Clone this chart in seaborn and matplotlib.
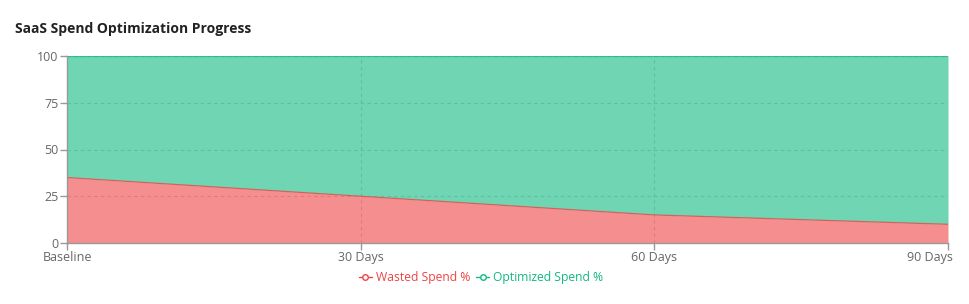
import matplotlib
matplotlib.use("Agg")
import matplotlib.pyplot as plt
import seaborn as sns
import numpy as np
import pandas as pd
from matplotlib.lines import Line2D
from matplotlib.transforms import ScaledTranslation

categories = ["Baseline", "30 Days", "60 Days", "90 Days"]
wasted = [35, 25, 15, 10]
optimized = [65, 75, 85, 90]
yticks = [0, 25, 50, 75, 100]

RED = "#ef4444"
GREEN = "#10b981"

sns.set_theme(style="white")
plt.rcParams["font.family"] = ["Open Sans", "DejaVu Sans"]

fig = plt.figure(figsize=(9.7, 3.04), dpi=100)
ax = fig.add_axes([67/970, 1-243/304, (948-67)/970, (243-56)/304])

x = np.arange(len(categories))
w = np.array(wasted, dtype=float)
o = np.array(optimized, dtype=float)
top = w + o

df = pd.DataFrame({"x": x, "wasted": w, "top": top})

for yv in yticks[1:]:
    ax.axhline(yv, color="#cccccc", lw=0.8, ls=(0, (3, 3)), zorder=0)
for xv in x[1:]:
    ax.axvline(xv, color="#cccccc", lw=0.8, ls=(0, (3, 3)), zorder=0)

ax.fill_between(x, 0, w, color=RED, alpha=0.6, lw=0, zorder=1)
ax.fill_between(x, w, top, color=GREEN, alpha=0.6, lw=0, zorder=1)
sns.lineplot(data=df, x="x", y="wasted", color=RED, lw=0.9, alpha=0.8, ax=ax, zorder=2)
sns.lineplot(data=df, x="x", y="top", color=GREEN, lw=0.9, alpha=0.8, ax=ax, zorder=2)

ax.set_xlim(0, 3)
ax.set_ylim(0, 100)
ax.set_xticks(x)
ax.set_xticklabels(categories)
ax.set_yticks(yticks)
ax.set_xlabel("")
ax.set_ylabel("")
for s in ["top", "right"]:
    ax.spines[s].set_visible(False)
for s in ["left", "bottom"]:
    ax.spines[s].set_color("#999999")
    ax.spines[s].set_linewidth(1)
ax.tick_params(axis="both", which="both", length=5, width=1, color="#999999",
               labelcolor="#666666", labelsize=9, pad=1, bottom=True, left=True)
labels = ax.get_xticklabels()
labels[-1].set_transform(labels[-1].get_transform() + ScaledTranslation(-18/100, 0, fig.dpi_scale_trans))

fig.text(15/970, 1-29/304, "SaaS Spend Optimization Progress", fontsize=10,
         fontweight="bold", color="#222222", va="center", ha="left")

handles = [
    Line2D([0], [0], color=RED, lw=1, marker="o", markersize=4,
           markerfacecolor="white", markeredgecolor=RED),
    Line2D([0], [0], color=GREEN, lw=1, marker="o", markersize=4,
           markerfacecolor="white", markeredgecolor=GREEN),
]
leg = fig.legend(handles, ["Wasted Spend %", "Optimized Spend %"],
                 loc="center", bbox_to_anchor=(481/970, 1-278/304), ncol=2,
                 frameon=False, fontsize=8.7, handlelength=1.1, handletextpad=0.3,
                 columnspacing=0.5)
for t, c in zip(leg.get_texts(), [RED, GREEN]):
    t.set_color(c)

fig.savefig("out.png", dpi=100)
